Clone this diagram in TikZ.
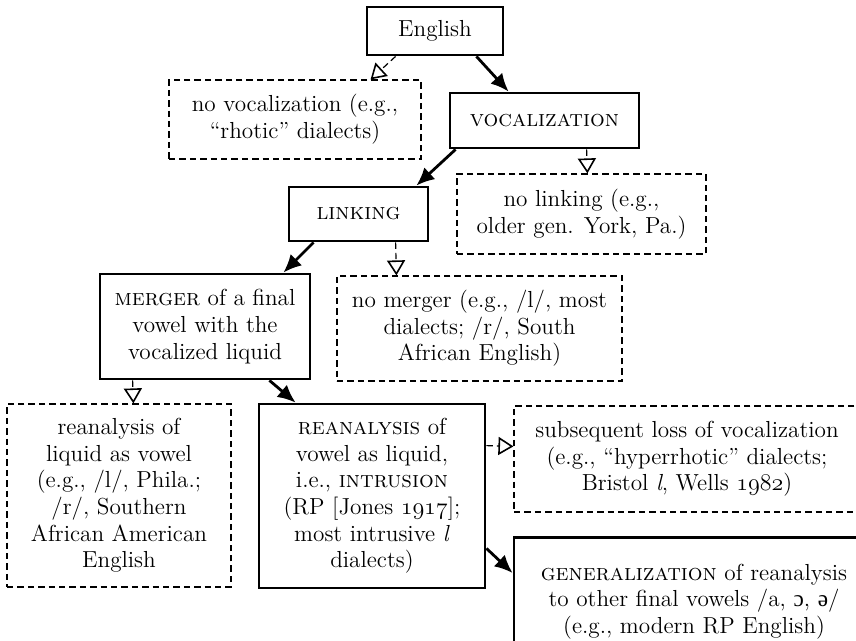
\documentclass[tikz,border=0pt]{standalone}
\usepackage{fontspec}
\newfontfamily\ipafont{Liberation Serif}
\usetikzlibrary{arrows.meta}
\newcommand\osfnum[1]{{\usefont{OML}{cmm}{m}{it}#1}}
\begin{document}
\begin{tikzpicture}
    [
    x=0.5pt,y=-0.5pt,
    font=\fontsize{11.6}{13.3}\selectfont,
    stage/.style={draw,line width=1.4pt,align=center,inner sep=0pt},
    lack/.style={draw,line width=0.6pt,dash pattern=on 3.2pt off 2pt,align=center,inner sep=0pt},
    go/.style={line width=1.4pt,-{Latex[length=9pt,width=8pt]}},
    nogo/.style={line width=0.6pt,dash pattern=on 3.2pt off 2pt,-{Triangle[open,length=7.5pt,width=9pt,line width=0.8pt]}}
    ]
    \useasboundingbox (0,0) rectangle (856,641);
    \clip (0,0) rectangle (856,641);
    \node (english) at (435,31) [stage,minimum width=68pt,minimum height=24pt] {English};
    \node (novoc) at (295,119.5) [lack,minimum width=126pt,minimum height=39.5pt] {no vocalization (e.g.,\\ ``rhotic'' dialects)};
    \node (vocal) at (544.5,120.5) [stage,minimum width=94.5pt,minimum height=27.5pt] {\textsc{vocalization}};
    \node (nolink) at (581.5,214) [lack,minimum width=124.5pt,minimum height=40pt] {no linking (e.g.,\\ older gen. York, Pa.)};
    \node (linking) at (358.5,214) [stage,minimum width=69.5pt,minimum height=27pt] {\textsc{linking}};
    \node (merger) at (205,326.5) [stage,minimum width=105pt,minimum height=52.5pt] {\textsc{merger} of a final\\ vowel with the\\ vocalized liquid};
    \node (nomerger) at (479.5,328.5) [lack,minimum width=142.5pt,minimum height=52.5pt] {no merger (e.g., /l/, most\\ dialects; /r/, South\\ African English)};
    \node (reliq) at (119,495.5) [lack,minimum width=112pt,minimum height=91.5pt] {reanalysis of\\ liquid as vowel\\ (e.g., /l/, Phila.;\\ /r/, Southern\\ African American\\ English};
    \node (reanal) at (372,496) [stage,minimum width=113pt,minimum height=92pt] {\textsc{reanalysis} of\\ vowel as liquid,\\ i.e., \textsc{intrusion}\\ (RP [Jones \osfnum{1917}];\\ most intrusive \textit{l}\\ dialects)};
    \node (subseq) at (687,459) [lack,minimum width=173pt,minimum height=53pt] {subsequent loss of vocalization\\ (e.g., ``hyperrhotic'' dialects;\\ Bristol \textit{l}, Wells \osfnum{1982})};
    \node (general) at (694,536) [stage,anchor=north,minimum width=180pt,minimum height=64pt] {\textsc{generalization} of reanalysis\\ to other final vowels /a, {\ipafont ɔ}, {\ipafont ə}/\\ (e.g., modern RP English)};
    \draw [nogo] ([xshift=15pt]english.south west) to ([xshift=-25.5pt]novoc.north east);
    \draw [go] ([xshift=-14pt]english.south east) to ([xshift=30pt]vocal.north west);
    \draw [go] ([xshift=3.5pt]vocal.south west) to ([xshift=-6.5pt]linking.north east);
    \draw [nogo] ([xshift=69pt]vocal.south west) to ([xshift=65.5pt]nolink.north west);
    \draw [go] ([xshift=13pt]linking.south west) to ([xshift=-14pt]merger.north east);
    \draw [nogo] ([xshift=54pt]linking.south west) to ([xshift=30pt]nomerger.north west);
    \draw [nogo] ([xshift=17pt]merger.south west) to ([xshift=63.5pt]reliq.north west);
    \draw [go] ([xshift=-21pt]merger.south east) to ([xshift=19pt]reanal.north west);
    \draw [nogo] ([yshift=-21.5pt]reanal.north east) to ([yshift=-20.5pt]subseq.north west);
    \draw [go] ([yshift=20.5pt]reanal.south east) to ([yshift=-18.5pt]general.north west);
  \end{tikzpicture}
\end{document}
